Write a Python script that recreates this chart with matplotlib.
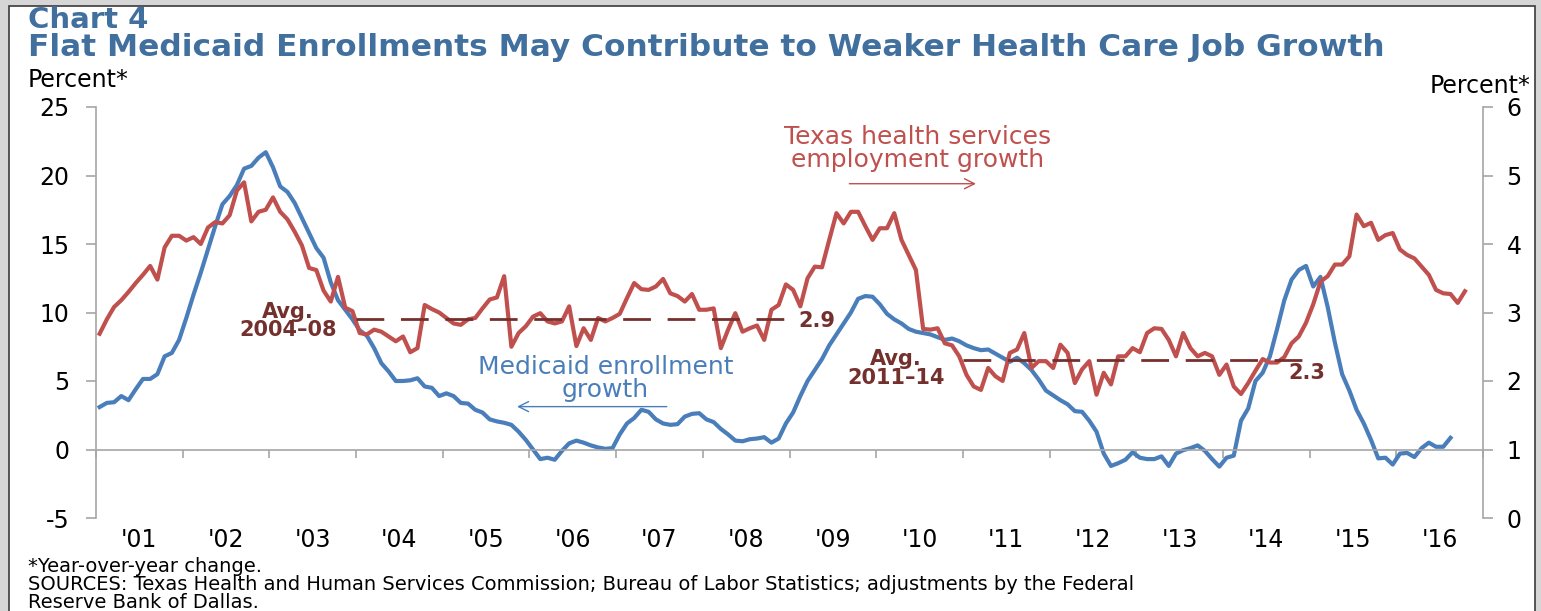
import matplotlib.pyplot as plt
from matplotlib.patches import Rectangle

plt.rcParams['font.family'] = 'DejaVu Sans'
plt.rcParams['axes.unicode_minus'] = False

# Medicaid enrollment growth, percent y/y, monthly from Jan 2001 (left axis)
medicaid = [
    3.1, 3.4, 3.45, 3.9, 3.6, 4.4, 5.15, 5.15, 5.5, 6.8, 7.05, 8.0,
    9.6, 11.3, 12.9, 14.6, 16.3, 17.9, 18.5, 19.3, 20.5, 20.7, 21.3, 21.7,
    20.6, 19.2, 18.8, 18.0, 16.9, 15.8, 14.7, 14.0, 12.2, 10.9, 10.2, 9.5,
    8.7, 8.3, 7.4, 6.3, 5.7, 5.0, 5.0, 5.05, 5.2, 4.6, 4.5, 3.9,
    4.1, 3.9, 3.4, 3.35, 2.9, 2.7, 2.2, 2.05, 1.95, 1.8, 1.3, 0.7,
    0.0, -0.7, -0.6, -0.75, -0.1, 0.45, 0.65, 0.5, 0.3, 0.15, 0.05, 0.1,
    1.1, 1.9, 2.3, 2.9, 2.75, 2.2, 1.9, 1.8, 1.85, 2.4, 2.6, 2.65,
    2.2, 2.0, 1.5, 1.1, 0.65, 0.6, 0.75, 0.8, 0.9, 0.5, 0.8, 1.9,
    2.7, 3.9, 5.0, 5.8, 6.6, 7.6, 8.4, 9.2, 10.0, 11.0, 11.2, 11.15,
    10.6, 9.9, 9.5, 9.2, 8.8, 8.6, 8.5, 8.4, 8.2, 8.0, 8.1, 7.9,
    7.6, 7.4, 7.25, 7.3, 7.0, 6.7, 6.4, 6.7, 6.3, 5.8, 5.1, 4.3,
    3.95, 3.6, 3.3, 2.8, 2.75, 2.1, 1.3, -0.3, -1.2, -1.0, -0.75, -0.2,
    -0.6, -0.7, -0.7, -0.5, -1.2, -0.3, -0.05, 0.1, 0.3, -0.1, -0.7, -1.25,
    -0.6, -0.45, 2.1, 3.0, 5.0, 5.6, 6.8, 8.8, 10.9, 12.4, 13.1, 13.4,
    11.9, 12.6, 10.4, 7.8, 5.5, 4.3, 2.9, 1.9, 0.7, -0.65, -0.6, -1.1,
    -0.3, -0.25, -0.55, 0.1, 0.5, 0.2, 0.2, 0.85,
]

# Texas health services employment growth, percent y/y (right axis)
health = [
    2.69, 2.90, 3.08, 3.18, 3.30, 3.43, 3.55, 3.68, 3.48, 3.95, 4.12, 4.12,
    4.05, 4.10, 4.00, 4.24, 4.32, 4.30, 4.42, 4.78, 4.90, 4.33, 4.47, 4.50,
    4.68, 4.47, 4.36, 4.18, 3.98, 3.65, 3.62, 3.32, 3.16, 3.52, 3.07, 3.02,
    2.70, 2.68, 2.75, 2.72, 2.65, 2.58, 2.65, 2.42, 2.48, 3.11, 3.05, 3.00,
    2.92, 2.84, 2.82, 2.90, 2.92, 3.06, 3.19, 3.22, 3.53, 2.50, 2.70, 2.80,
    2.94, 2.99, 2.87, 2.84, 2.87, 3.09, 2.51, 2.77, 2.60, 2.92, 2.87, 2.92,
    2.98, 3.21, 3.43, 3.34, 3.33, 3.38, 3.49, 3.28, 3.24, 3.16, 3.27, 3.04,
    3.04, 3.06, 2.48, 2.75, 2.99, 2.72, 2.77, 2.81, 2.60, 3.04, 3.11, 3.41,
    3.33, 3.09, 3.50, 3.67, 3.66, 4.06, 4.45, 4.30, 4.47, 4.47, 4.26, 4.06,
    4.23, 4.23, 4.45, 4.06, 3.84, 3.62, 2.76, 2.75, 2.77, 2.55, 2.52, 2.36,
    2.09, 1.92, 1.87, 2.19, 2.07, 2.00, 2.41, 2.46, 2.70, 2.19, 2.29, 2.29,
    2.19, 2.53, 2.41, 1.97, 2.17, 2.29, 1.80, 2.12, 1.95, 2.36, 2.36, 2.48,
    2.42, 2.70, 2.77, 2.76, 2.60, 2.36, 2.70, 2.48, 2.36, 2.41, 2.36, 2.09,
    2.24, 1.92, 1.81, 1.97, 2.15, 2.32, 2.27, 2.27, 2.35, 2.55, 2.65, 2.85,
    3.12, 3.45, 3.53, 3.70, 3.70, 3.82, 4.43, 4.26, 4.31, 4.06, 4.13, 4.16,
    3.92, 3.84, 3.79, 3.67, 3.55, 3.33, 3.28, 3.27, 3.14, 3.31,
]

years = ["'01", "'02", "'03", "'04", "'05", "'06", "'07", "'08",
         "'09", "'10", "'11", "'12", "'13", "'14", "'15", "'16"]

# period averages of employment growth: (first month, end month, value)
averages = [(36, 96, 2.9), (120, 168, 2.3)]

blue = '#4a7ebb'
red = '#c0504d'
darkred = '#74302d'
gray = '#a6a6a6'
title_col = '#41709f'

W, H = 1541, 611
fig = plt.figure(figsize=(W / 100, H / 100), dpi=100, facecolor='#d6d6d6')
fig.patches.append(Rectangle((9 / W, -0.01), (1535 - 9) / W, 1.01 - 6 / H,
                             transform=fig.transFigure, facecolor='white',
                             edgecolor='#3a3a3a', lw=1.2, zorder=-5))

ax = fig.add_axes([96 / W, 1 - 518 / H, (1483 - 96) / W, 411 / H])
ax.patch.set_alpha(0)
ax2 = ax.twinx()

x_med = [i + 0.5 for i in range(len(medicaid))]
x_hlt = [i + 0.5 for i in range(len(health))]
ax.plot(x_med, medicaid, color=blue, lw=3.0, solid_joinstyle='round')
ax2.plot(x_hlt, health, color=red, lw=3.0, solid_joinstyle='round')

for start, end, val in averages:
    ax2.plot([start, end], [val, val], color=darkred, lw=2.0, dashes=(10, 6))

ax.set_xlim(0, 192)
ax.set_ylim(-5, 25)
ax2.set_ylim(0, 6)
ax.set_yticks(range(-5, 26, 5))
ax2.set_yticks(range(0, 7))

for s in ['top', 'right']:
    ax.spines[s].set_visible(False)
for s in ['top', 'left', 'bottom']:
    ax2.spines[s].set_visible(False)
ax.spines['left'].set_color(gray)
ax2.spines['right'].set_color(gray)
ax.spines['bottom'].set_color(gray)
ax.spines['bottom'].set_position(('data', 0))
for sp in [ax.spines['left'], ax2.spines['right'], ax.spines['bottom']]:
    sp.set_linewidth(1.2)

ax.set_xticks(range(0, 193, 12))
ax.set_xticklabels([])
ax.tick_params(axis='x', length=6, width=1.2, color=gray, direction='out')
ax.tick_params(axis='y', length=7, width=1.2, color=gray, pad=12, labelsize=17)
ax2.tick_params(axis='y', length=7, width=1.2, color=gray, pad=10, labelsize=17)

for k, lab in enumerate(years):
    ax.text(6 + 12 * k, -22 / 411, lab, transform=ax.get_xaxis_transform(),
            ha='center', va='center', fontsize=17)

# series labels and arrows
ax2.text(113.7, 5.40, 'Texas health services\nemployment growth', color=red,
         ha='center', va='center', fontsize=18, linespacing=0.95)
ax2.annotate('', xy=(122.2, 4.88), xytext=(103.9, 4.88),
             arrowprops=dict(arrowstyle='->', color=red, lw=1.0,
                             mutation_scale=18))
ax.text(70.5, 5.17, 'Medicaid enrollment\ngrowth', color=blue,
        ha='center', va='center', fontsize=18, linespacing=0.95)
ax.annotate('', xy=(57.9, 3.13), xytext=(79.4, 3.13),
            arrowprops=dict(arrowstyle='->', color=blue, lw=1.0,
                            mutation_scale=18))

# average labels
ax2.text(26.6, 2.88, 'Avg.\n2004\u201308', color=darkred, ha='center',
         va='center', fontsize=15, fontweight='bold', linespacing=0.9)
ax2.text(97.2, 2.87, '2.9', color=darkred, ha='left', va='center',
         fontsize=15, fontweight='bold')
ax2.text(110.7, 2.18, 'Avg.\n2011\u201314', color=darkred, ha='center',
         va='center', fontsize=15, fontweight='bold', linespacing=0.9)
ax2.text(165.1, 2.12, '2.3', color=darkred, ha='left', va='center',
         fontsize=15, fontweight='bold')

# titles and notes
fig.text(28 / W, 1 - 20 / H, 'Chart 4', color=title_col, fontsize=21,
         fontweight='bold', va='center')
fig.text(28 / W, 1 - 48 / H,
         'Flat Medicaid Enrollments May Contribute to Weaker Health Care Job Growth',
         color=title_col, fontsize=22.5, fontweight='bold', va='center')
fig.text(28 / W, 1 - 80 / H, 'Percent*', fontsize=17, va='center')
fig.text(1531 / W, 1 - 86 / H, 'Percent*', fontsize=17, va='center', ha='right')

fig.text(28 / W, 1 - 566 / H, '*Year-over-year change.', fontsize=14, va='center')
fig.text(28 / W, 1 - 585 / H,
         'SOURCES: Texas Health and Human Services Commission; Bureau of Labor '
         'Statistics; adjustments by the Federal', fontsize=14, va='center')
fig.text(28 / W, 1 - 603 / H, 'Reserve Bank of Dallas.', fontsize=14, va='center')

fig.savefig('out.png', dpi=100, facecolor=fig.get_facecolor())
